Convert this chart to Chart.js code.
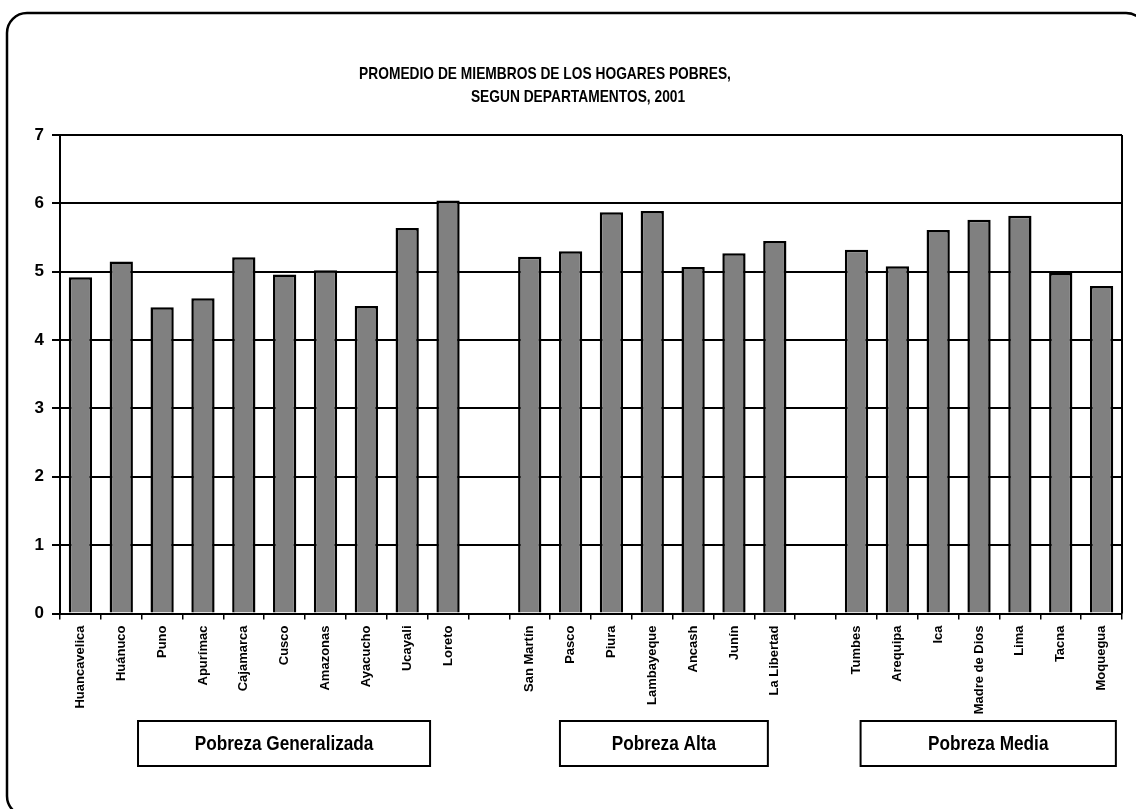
<!DOCTYPE html>
<html>
<head>
<meta charset="utf-8">
<script src="https://cdn.jsdelivr.net/npm/chart.js@4"></script>
<style>
html, body { margin: 0; padding: 0; background: #fff; }
#wrap { width: 1136px; height: 809px; position: relative; }
</style>
</head>
<body>
<div id="wrap"><canvas id="hogaresChart"></canvas></div>
<script>
// Data (empty slots separate the three poverty groups)
var departments = ['Huancavelica', 'Huánuco', 'Puno', 'Apurímac', 'Cajamarca', 'Cusco', 'Amazonas', 'Ayacucho', 'Ucayali', 'Loreto', '',
    'San Martín', 'Pasco', 'Piura', 'Lambayeque', 'Ancash', 'Junín', 'La Libertad', '',
    'Tumbes', 'Arequipa', 'Ica', 'Madre de Dios', 'Lima', 'Tacna', 'Moquegua'];
var members = [4.92, 5.15, 4.48, 4.61, 5.21, 4.96, 5.02, 4.50, 5.64, 6.04, null,
    5.22, 5.30, 5.87, 5.89, 5.07, 5.27, 5.45, null,
    5.32, 5.08, 5.61, 5.76, 5.82, 4.98, 4.79];
var yTicks = [0, 1, 2, 3, 4, 5, 6, 7];
var groupNames = ['Pobreza Generalizada', 'Pobreza Alta', 'Pobreza Media'];
var titleLines = ['PROMEDIO DE MIEMBROS DE LOS HOGARES POBRES,', 'SEGUN DEPARTAMENTOS, 2001'];

// layout only: group box edges in category slots, title centres in px
var groupSlots = [[1.91, 9.06], [12.24, 17.33], [19.6, 25.85]];
var titleCentres = [545, 578];
var FONT = '"Liberation Sans", Arial, sans-serif';

// narrow-looking text: squeeze horizontally
function narrowText(c, text, x, y, sx) {
    c.save();
    c.translate(x, y);
    c.scale(sx, 1);
    c.fillText(text, 0, 0);
    c.restore();
}

var decorPlugin = {
    id: 'decor',
    beforeDraw: function (chart) {
        var c = chart.ctx;
        c.save();
        c.fillStyle = '#fff';
        c.fillRect(0, 0, chart.width, chart.height);
        c.lineWidth = 2.5;
        c.strokeStyle = '#000';
        c.beginPath();
        c.roundRect(7, 13, 1139, 803, 20);
        c.stroke();
        c.restore();
    },
    afterDraw: function (chart) {
        var c = chart.ctx;
        var area = chart.chartArea;
        c.save();
        // right edge of plot
        c.strokeStyle = '#000';
        c.lineWidth = 2;
        c.beginPath();
        c.moveTo(area.right, area.top);
        c.lineTo(area.right, area.bottom);
        c.stroke();

        // title
        c.fillStyle = '#000';
        c.font = 'bold 17px ' + FONT;
        c.textAlign = 'center';
        c.textBaseline = 'middle';
        narrowText(c, titleLines[0], titleCentres[0], 74, 0.81);
        narrowText(c, titleLines[1], titleCentres[1], 97, 0.81);

        // group boxes
        var slot = (area.right - area.left) / departments.length;
        c.font = 'bold 20px ' + FONT;
        for (var i = 0; i < groupNames.length; i++) {
            var x0 = area.left + groupSlots[i][0] * slot;
            var x1 = area.left + groupSlots[i][1] * slot;
            c.lineWidth = 2;
            c.strokeRect(x0, 721, x1 - x0, 45);
            narrowText(c, groupNames[i], (x0 + x1) / 2, 744, 0.86);
        }
        c.restore();
    }
};

var ctx = document.getElementById('hogaresChart').getContext('2d');
var hogaresChart = new Chart(ctx, {
    type: 'bar',
    data: {
        labels: departments,
        datasets: [{
            data: members,
            backgroundColor: '#808080',
            borderColor: '#000',
            borderWidth: 2.5,
            categoryPercentage: 1,
            barPercentage: 0.57
        }]
    },
    options: {
        responsive: true,
        maintainAspectRatio: false,
        animation: false,
        layout: { padding: { left: 0, right: 14, top: 135, bottom: 0 } },
        plugins: {
            legend: { display: false },
            tooltip: { enabled: false }
        },
        scales: {
            x: {
                grid: { display: true, drawOnChartArea: false, drawTicks: true, tickLength: 6, color: '#000', lineWidth: 1.5 },
                border: { display: true, color: '#000', width: 2 },
                ticks: {
                    autoSkip: false,
                    minRotation: 90,
                    maxRotation: 90,
                    padding: 6,
                    color: '#000',
                    font: { family: FONT, size: 13, weight: 'bold' }
                },
                afterFit: function (scale) { scale.height = 809 - 613.5; }
            },
            y: {
                min: 0,
                max: 7,
                afterBuildTicks: function (scale) {
                    scale.ticks = yTicks.map(function (v) { return { value: v }; });
                },
                grid: { color: '#000', lineWidth: 2, tickLength: 8 },
                border: { display: true, color: '#000', width: 2 },
                ticks: {
                    padding: 8,
                    color: '#000',
                    font: { family: FONT, size: 17, weight: 'bold' }
                },
                afterFit: function (scale) { scale.width = 60; }
            }
        }
    },
    plugins: [decorPlugin]
});
</script>
</body>
</html>
